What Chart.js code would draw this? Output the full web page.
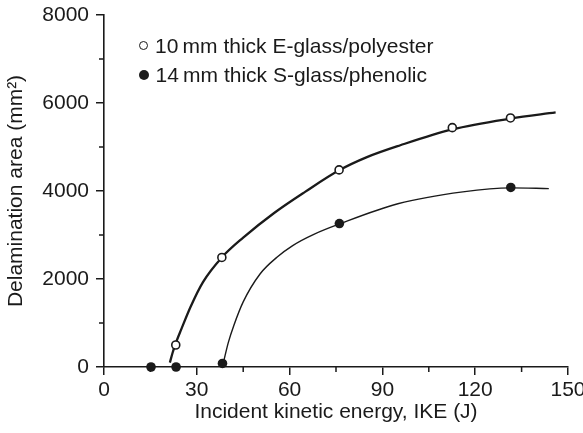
<!DOCTYPE html>
<html>
<head>
<meta charset="utf-8">
<script src="https://cdn.jsdelivr.net/npm/chart.js@4.4.0/dist/chart.umd.min.js"></script>
<style>
  html, body { margin: 0; padding: 0; background: #fff; }
  #wrap { position: relative; width: 583px; height: 433px; }
  #legend { position: absolute; left: 136px; top: 31px; font-family: "Liberation Sans", Arial, sans-serif;
            font-size: 21px; color: #1a1a1a; line-height: 29px; }
  #legend .row { display: flex; align-items: center; white-space: nowrap; }
  #legend .mk { display: inline-block; box-sizing: border-box; border-radius: 50%; margin-right: 7px; }
  #legend .open { width: 9px; height: 9px; border: 1.6px solid #1a1a1a; background: #fff; margin-left: 3px; }
  #legend .filled { width: 10px; height: 10px; background: #1a1a1a; margin-left: 2.5px; }
</style>
</head>
<body>
<div id="wrap">
  <canvas id="chart" width="583" height="433"></canvas>
  <div id="legend">
    <div class="row"><span class="mk open"></span>10&#8201;mm thick E-glass/polyester</div>
    <div class="row"><span class="mk filled"></span>14&#8201;mm thick S-glass/phenolic</div>
  </div>
</div>
<script>
// measured points (IKE in J, delamination area in mm²)
const eGlassX = [23.2, 38.1, 76.0, 112.6, 131.4];
const eGlassY = [500, 2490, 4480, 5440, 5660];
const sGlassX = [15.2, 23.3, 38.3, 76.1, 131.5];
const sGlassY = [0, 0, 80, 3260, 4080];

// fitted curves
const eFitX = [21.3, 22.2, 23.2, 25, 28, 32, 38.1, 45, 55, 65, 76, 85, 95.8, 112.6, 131.4, 146];
const eFitY = [100, 330, 540, 860, 1370, 1930, 2490, 2940, 3500, 3980, 4470, 4770, 5040, 5400, 5645, 5785];
const sFitX = [38.6, 40.2, 42, 45, 50.5, 56, 61, 68, 76.1, 95, 116, 131.5, 143.8];
const sFitY = [100, 560, 950, 1480, 2120, 2500, 2760, 3020, 3250, 3710, 3980, 4070, 4055];

// axis ticks
const xMajor = [0, 30, 60, 90, 120, 150];
const xMinor = [15, 45, 75, 105, 135];
const yMajor = [0, 2000, 4000, 6000, 8000];
const yMinor = [1000, 3000, 5000, 7000];

const INK = "#1a1a1a";
const FONT = "'Liberation Sans', Arial, sans-serif";
const toPts = (xs, ys) => xs.map((x, i) => ({ x, y: ys[i] }));

// short ticks between labelled ones
const minorTicks = {
  id: "minorTicks",
  afterDraw(chart) {
    const { ctx, scales: { x, y } } = chart;
    ctx.save();
    ctx.strokeStyle = INK;
    ctx.lineWidth = 1.5;
    ctx.beginPath();
    xMinor.forEach(v => {
      const px = x.getPixelForValue(v);
      ctx.moveTo(px, x.top);
      ctx.lineTo(px, x.top + 5);
    });
    yMinor.forEach(v => {
      const py = y.getPixelForValue(v);
      ctx.moveTo(y.right, py);
      ctx.lineTo(y.right - 5, py);
    });
    ctx.stroke();
    ctx.restore();
  }
};

new Chart(document.getElementById("chart"), {
  type: "scatter",
  data: {
    datasets: [
      { label: "10 mm thick E-glass/polyester", data: toPts(eGlassX, eGlassY), pointRadius: 4,
        pointBackgroundColor: "#fff", pointBorderColor: INK, pointBorderWidth: 1.6, clip: false },
      { label: "14 mm thick S-glass/phenolic", data: toPts(sGlassX, sGlassY), pointRadius: 4.8,
        pointBackgroundColor: INK, pointBorderColor: INK, pointBorderWidth: 0, clip: false },
      { label: "E fit", data: toPts(eFitX, eFitY), showLine: true, pointRadius: 0, borderColor: INK,
        borderWidth: 2.3, cubicInterpolationMode: "monotone", clip: false },
      { label: "S fit", data: toPts(sFitX, sFitY), showLine: true, pointRadius: 0, borderColor: INK,
        borderWidth: 1.4, cubicInterpolationMode: "monotone", clip: false }
    ]
  },
  options: {
    responsive: false,
    animation: false,
    layout: { padding: { left: 0, top: 15, right: 15, bottom: 0 } },
    plugins: { legend: { display: false }, tooltip: { enabled: false } },
    scales: {
      x: {
        type: "linear", min: 0, max: 150,
        afterBuildTicks: s => { s.ticks = xMajor.map(v => ({ value: v })); },
        afterFit: s => { s.height = 66; s.paddingLeft = 0; s.paddingRight = 0; },
        ticks: { color: INK, font: { family: FONT, size: 21 }, padding: 3, maxRotation: 0,
                 callback: v => String(v) },
        grid: { drawOnChartArea: false, drawTicks: true, tickLength: 8, color: INK, lineWidth: 1.5 },
        border: { display: true, color: INK, width: 1.6 },
        title: { display: true, text: "Incident kinetic energy, IKE (J)", color: INK,
                 font: { family: FONT, size: 21 }, padding: { top: 0, bottom: 8 } }
      },
      y: {
        type: "linear", min: 0, max: 8000,
        afterBuildTicks: s => { s.ticks = yMajor.map(v => ({ value: v })); },
        afterFit: s => { s.width = 104; s.paddingTop = 0; s.paddingBottom = 0; },
        ticks: { color: INK, font: { family: FONT, size: 21 }, padding: 7, callback: v => String(v) },
        grid: { drawOnChartArea: false, drawTicks: true, tickLength: 8, color: INK, lineWidth: 1.5 },
        border: { display: true, color: INK, width: 1.6 },
        title: { display: true, text: "Delamination area (mm²)", color: INK,
                 font: { family: FONT, size: 21 }, padding: { top: 4, bottom: 0 } }
      }
    }
  },
  plugins: [minorTicks]
});
</script>
</body>
</html>
